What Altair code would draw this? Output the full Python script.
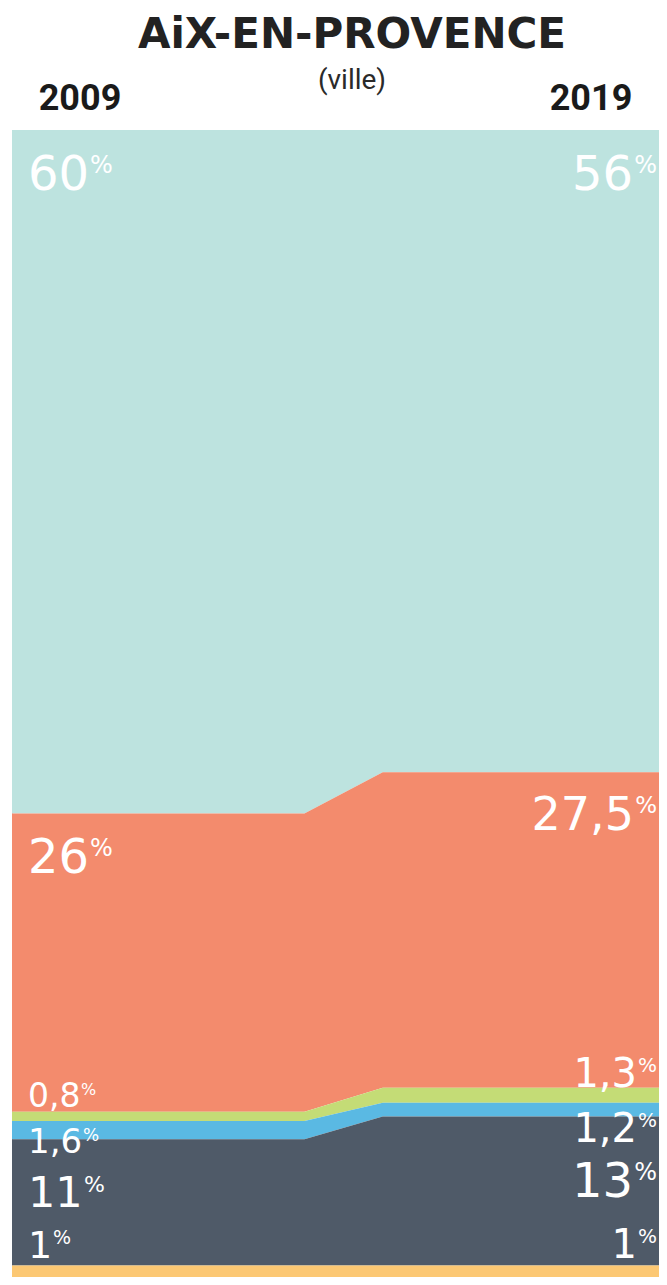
import altair as alt
import pandas as pd

# ---- data ----
series = ["Série 1", "Série 2", "Série 3", "Série 4", "Série 5", "Série 6"]  # top -> bottom
colors = ["#bde3df", "#f38b6d", "#c4dc76", "#5ab9e3", "#4f5a68", "#fcc873"]
values_2009 = [60, 26, 0.8, 1.6, 11, 1]
values_2019 = [56, 27.5, 1.3, 1.2, 13, 1]
labels_2009 = ["60", "26", "0,8", "1,6", "11", "1"]
labels_2019 = ["56", "27,5", "1,3", "1,2", "13", "1"]
x_stops = [0, 45.2, 57.3, 100]          # plateau 2009 -> transition -> plateau 2019
stop_year = ["2009", "2009", "2019", "2019"]

# label baselines (in % of the stacked axis) and font sizes
lab_y_2009 = [94.8, 35.2, 14.8, 10.8, 6.1, 1.7]
lab_y_2019 = [94.8, 39.0, 16.6, 11.8, 7.0, 1.7]
lab_size_2009 = [48, 48, 33, 34, 43, 38]
lab_size_2019 = [48, 46, 40, 40, 48, 40]

rows = []
for i, s in enumerate(series):
    for xs, yr in zip(x_stops, stop_year):
        v = values_2009[i] if yr == "2009" else values_2019[i]
        rows.append({"serie": s, "x": xs, "v": v, "ord": len(series) - i})
df = pd.DataFrame(rows)

W, H = 647, 1147
FONT = "DejaVu Sans"
DIG, COM, PCT = 0.636, 0.318, 0.95
PR = 0.5  # size ratio of the small % sign


def text_width(t, size):
    return sum((COM if c == "," else DIG) for c in t) * size


lab_rows = []
for i in range(len(series)):
    # left
    s = lab_size_2009[i]
    ps = round(s * PR)
    lab_rows.append({"t": labels_2009[i], "x": 0, "y": lab_y_2009[i], "size": s,
                     "align": "left", "dx": 16, "dy": 0})
    lab_rows.append({"t": "%", "x": 0, "y": lab_y_2009[i], "size": ps, "align": "left",
                     "dx": round(16 + text_width(labels_2009[i], s) + 1),
                     "dy": round(-(0.729 * s - 0.729 * ps))})
    # right
    s = lab_size_2019[i]
    ps = round(s * PR)
    lab_rows.append({"t": "%", "x": 100, "y": lab_y_2019[i], "size": ps, "align": "right",
                     "dx": -2, "dy": round(-(0.729 * s - 0.729 * ps))})
    lab_rows.append({"t": labels_2019[i], "x": 100, "y": lab_y_2019[i], "size": s,
                     "align": "right", "dx": round(-2 - PCT * ps - 1), "dy": 0})
labdf = pd.DataFrame(lab_rows)

xsc = alt.Scale(domain=[0, 100])
ysc = alt.Scale(domain=[0, 100])

area = alt.Chart(df).mark_area(clip=True, interpolate="linear").encode(
    x=alt.X("x:Q", scale=xsc, axis=None),
    y=alt.Y("v:Q", stack="zero", scale=ysc, axis=None),
    color=alt.Color("serie:N", scale=alt.Scale(domain=series, range=colors), legend=None),
    order=alt.Order("ord:Q", sort="ascending"),
)

label_layers = []
for al in ["left", "right"]:
    sub = labdf[labdf["align"] == al]
    for (sz, dx, dy), g in sub.groupby(["size", "dx", "dy"]):
        label_layers.append(
            alt.Chart(g).mark_text(font=FONT, fontSize=float(sz), color="white",
                                   align=al, baseline="alphabetic", dx=float(dx), dy=float(dy)).encode(
                x=alt.X("x:Q", scale=xsc, axis=None),
                y=alt.Y("y:Q", scale=ysc, axis=None, stack=None),
                text="t:N",
            )
        )

one = pd.DataFrame({"a": [0]})
title = alt.Chart(one).mark_text(text="AiX-EN-PROVENCE", font=FONT, fontWeight="bold",
                                 fontSize=42, color="#222222", align="center",
                                 baseline="alphabetic").encode(
    x=alt.value(340), y=alt.value(-82))
sub = alt.Chart(one).mark_text(text="(ville)", font="Roboto", fontSize=28,
                               color="#2a2a2a", align="center", baseline="alphabetic").encode(
    x=alt.value(340), y=alt.value(-41))
y1 = alt.Chart(one).mark_text(text="2009", font="Roboto", fontWeight="bold",
                              fontSize=36, color="#1a1a1a", align="center",
                              baseline="alphabetic").encode(
    x=alt.value(68), y=alt.value(-20))
y2 = alt.Chart(one).mark_text(text="2019", font="Roboto", fontWeight="bold",
                              fontSize=36, color="#1a1a1a", align="center",
                              baseline="alphabetic").encode(
    x=alt.value(579), y=alt.value(-20))

chart = alt.layer(area, *label_layers, title, sub, y1, y2).properties(
    width=W, height=H,
    autosize=alt.AutoSizeParams(type="none"),
    padding={"left": 4, "top": 122, "right": 0, "bottom": 0},
).configure_view(stroke=None).configure(background="white")

chart.save("out.html", embed_options={"renderer": "svg", "actions": False})
